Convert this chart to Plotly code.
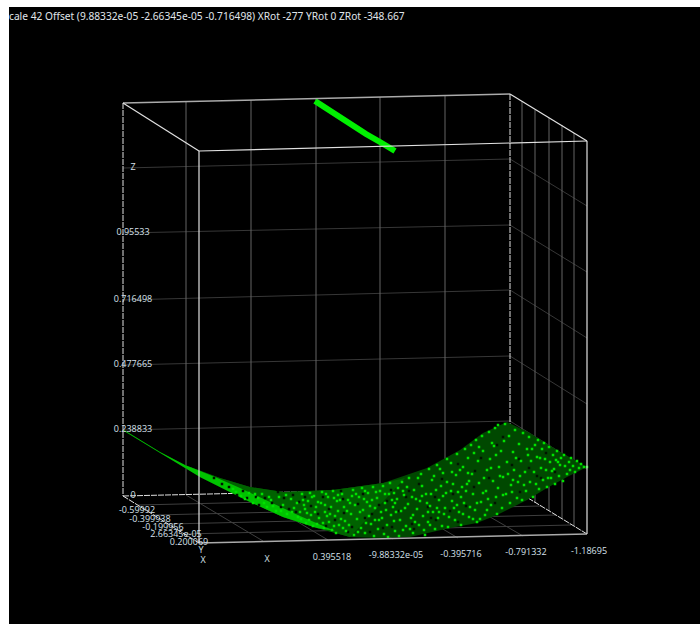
import plotly.graph_objects as go

TITLE = "cale 42 Offset (9.88332e-05 -2.66345e-05 -0.716498) XRot -277 YRot 0 ZRot -348.667"

label_text = ["Z", "0.95533", "0.716498", "0.477665", "0.238833", "0",
              "-0.59992", "-0.399938", "-0.199956", "2.66345e-05", "0.200069", "Y",
              "X", "X", "0.395518", "-9.88332e-05", "-0.395716", "-0.791332", "-1.18695"]
label_x = [133, 133, 133, 133, 133, 133, 137, 150, 163, 176, 189, 201, 203, 267, 332, 396, 461, 526, 589]
label_y = [168, 233, 300, 365, 430, 496, 511, 520, 528, 535, 543, 551, 561, 560, 558, 556, 555, 553, 552]

frame_bright_x = [199, 199, None, 587, 587, None, 123, 199, None, 510, 587, None, 199, 587]
frame_bright_y = [151, 543, None, 141, 534, None, 103, 151, None, 94, 141, None, 151, 141]
frame_mid_x = [123, 510, None, 199, 587]
frame_mid_y = [103, 94, None, 543, 534]
frame_dash_x = [123, 123, None, 510, 510, None, 123, 510, None, 123, 199, None, 510, 587]
frame_dash_y = [103, 496, None, 94, 487, None, 496, 487, None, 496, 543, None, 487, 534]

grid_v_x = [186, 186, None, 251, 251, None, 316, 316, None, 380, 380, None, 445, 445, None,
            522, 522, None, 535, 535, None, 549, 549, None, 562, 562, None, 574, 574]
grid_v_y = [102, 495, None, 100, 494, None, 99, 493, None, 97, 492, None, 96, 491, None,
            101, 494, None, 110, 503, None, 118, 511, None, 125, 519, None, 133, 526]
grid_z_x = [123, 510, 587, None, 123, 510, 587, None, 123, 510, 587, None, 123, 510, 587, None, 123, 510, 587]
grid_z_y = [168, 159, 206, None, 233, 225, 272, None, 300, 290, 338, None, 365, 356, 404, None, 430, 421, 469]
grid_f_x = [186, 263, None, 251, 328, None, 316, 393, None, 380, 458, None, 445, 523, None,
            138, 525, None, 154, 541, None, 169, 556, None, 184, 571]
grid_f_y = [495, 541, None, 494, 540, None, 493, 539, None, 492, 538, None, 491, 536, None,
            505, 496, None, 515, 506, None, 524, 515, None, 534, 525]

bar_x = [315, 327, 340, 353, 366, 380, 395]
bar_y = [101, 109, 117, 125, 134, 142, 151]

cloud_x = [124, 160, 185, 220, 250, 283, 333, 383, 427, 460, 483, 507, 530, 557, 587,
           567, 547, 527, 497, 477, 450, 410, 380, 350, 317, 283, 250, 200, 160, 124]
cloud_y = [430, 452, 465, 478, 487, 492, 490, 483, 468, 450, 433, 422, 433, 450, 467,
           477, 488, 500, 515, 523, 528, 537, 538, 537, 528, 517, 502, 477, 453, 431]
dense_x = [124, 160, 185, 215, 240, 265, 300, 335, 317, 283, 250, 200, 160, 124]
dense_y = [430, 452, 465, 477, 488, 500, 516, 531, 528, 517, 502, 477, 453, 431]
mid_x = [190, 220, 250, 283, 333, 383, 405, 350, 317, 283, 250, 200]
mid_y = [467, 478, 487, 492, 490, 483, 478, 537, 528, 517, 502, 477]

bright_pts = [
    (233,489),(241,496),(236,492),(249,493),(245,499),(258,498),(253,503),(262,494),(267,507),(271,500),
    (264,503),(276,511),(279,497),(283,505),(287,514),(291,499),(294,508),(298,517),(281,511),(273,506),
    (286,495),(297,503),(292,512),(255,494),(269,497),
    (302,494),(305,509),(301,519),(308,501),(311,515),(306,523),(314,496),(316,507),(313,526),(319,518),
    (322,492),(321,503),(325,512),(324,528),(328,497),(329,522),(331,507),(333,491),(335,516),(332,530),
    (337,501),(339,525),(338,511),(303,500),(310,493),(317,524),(327,516),(334,498),(336,533),(307,513),
    (342,494),(344,507),(341,519),(346,531),(348,500),(351,514),(349,525),(353,490),(355,505),(354,535),
    (357,519),(359,497),(361,528),(363,510),(362,488),(365,533),(367,502),(369,516),(368,493),(371,524),
    (373,487),(375,508),(374,536),(377,498),(379,520),(378,529),(381,512),(383,486),(385,503),(384,534),
    (387,525),(389,494),(391,515),(390,483),(393,507),(395,531),(394,521),(397,499),(399,536),(398,488),
    (345,521),(352,496),(358,532),(364,499),(370,506),(376,492),(382,518),(388,537),(392,500),(396,512),
    (402,482),(404,495),(401,511),(406,526),(408,504),(411,518),(409,478),(413,533),(414,490),(417,509),
    (416,499),(419,525),(421,474),(423,516),(422,486),(425,535),(427,503),(429,469),(428,522),(431,494),
    (433,512),(432,480),(435,529),(437,465),(439,500),(438,518),(441,486),(443,473),(442,526),(445,508),
    (447,459),(446,493),(449,517),(448,527),(403,530),(407,487),(412,497),(418,478),(424,530),(430,506),
    (436,490),(440,469),(444,514),(426,494),(415,522),
    (451,463),(453,484),(452,501),(455,520),(457,454),(456,475),(459,512),(458,492),(461,525),(463,467),
    (465,449),(464,503),(467,484),(469,517),(468,458),(471,445),(473,494),(472,474),(475,510),(477,522),
    (476,440),(479,483),(478,461),(481,502),(483,451),(482,436),(485,515),(487,470),(486,491),(489,432),
    (491,505),(490,459),(493,481),(495,428),(494,446),(497,514),(496,497),(499,467),(498,425),(454,508),
    (460,470),(466,491),(474,453),(480,519),(484,478),(488,499),(492,443),(498,488),(470,507),(462,487),
    (501,451),(503,477),(502,508),(505,424),(507,462),(506,494),(509,436),(511,485),(510,503),(513,452),
    (515,430),(514,470),(517,498),(519,444),(518,482),(521,461),(523,433),(522,500),(525,472),(527,449),
    (526,491),(529,437),(531,461),(530,482),(533,497),(535,445),(534,472),(537,457),(539,489),(538,440),
    (541,468),(543,480),(542,449),(545,459),(547,487),(546,470),(549,447),(551,478),(550,462),(553,455),
    (555,484),(554,469),(557,451),(559,476),(558,462),(561,458),(563,481),(565,466),(564,455),(567,474),
    (569,462),(571,458),(570,470),(573,466),(575,472),(577,461),(579,468),(581,464),(584,467),(587,467),
    (504,441),(512,492),(520,476),(528,455),(536,484),(544,443),(552,471),(560,465),
    (300,512),(304,505),(309,520),(312,497),(315,512),(318,502),(323,523),(326,494),(330,514),(334,526),
    (338,495),(343,528),(347,511),(350,503),(356,494),(360,512),(366,523),(372,500),(380,491),(386,510),
    (394,493),(400,520),(405,508),(410,529),(420,501),(428,512),(434,476),(439,512),(443,496),(451,491),
    (457,505),(463,514),(468,473),(473,519),(479,447),(483,493),(487,510),(491,468),(496,455),(500,476),
    (503,495),(508,474),(513,480),(516,458),(524,485),(532,449),(540,458),(548,478),(556,460),(340,500),
    (325,505),(365,491),(375,520),(385,494),(395,503),(403,491),(413,515),(422,496),(430,525),(437,508),
    (447,482),(452,472),(461,497),(469,481),(477,503),
]
bright_x = [p[0] for p in bright_pts]
bright_y = [p[1] for p in bright_pts]

dark_pts = [
    (214,478),(222,484),(229,487),(237,495),(243,491),(247,498),(256,497),(259,505),(265,498),(272,503),
    (278,492),(281,507),(284,498),(289,509),(293,495),(296,512),(299,502),(305,497),(311,506),(318,514),
    (323,497),(329,509),(335,520),(341,491),(344,513),(352,527),(358,504),(363,494),(372,514),(379,505),
    (383,528),(391,490),(399,511),(406,497),(412,524),(419,484),(428,507),(435,497),(442,479),(450,511),
    (458,464),(466,506),(474,487),(481,458),(489,478),(495,503),(503,437),(512,465),(520,492),(529,468),
    (537,476),(546,453),(555,472),(343,499),(365,518),(387,501),(409,491),(431,518),(453,494),(475,471),
    (497,445),(519,459),(541,478),(326,526),(348,532),(370,532),(392,527),(414,529),(436,520),(458,522),
]
dark_x = [p[0] for p in dark_pts]
dark_y = [p[1] for p in dark_pts]

fig = go.Figure()
fig.add_scatter(x=grid_z_x, y=grid_z_y, mode="lines", line=dict(color="rgb(55,55,55)", width=1))
fig.add_scatter(x=grid_f_x, y=grid_f_y, mode="lines", line=dict(color="rgb(62,62,62)", width=1))
fig.add_scatter(x=grid_v_x, y=grid_v_y, mode="lines", line=dict(color="rgb(100,100,100)", width=1))
fig.add_scatter(x=frame_dash_x, y=frame_dash_y, mode="lines",
                line=dict(color="rgb(225,225,225)", width=1, dash="6px,1px"))
fig.add_scatter(x=cloud_x, y=cloud_y, mode="lines", fill="toself", fillcolor="rgb(0,72,0)", line=dict(width=0))
fig.add_scatter(x=mid_x, y=mid_y, mode="lines", fill="toself", fillcolor="rgb(0,98,0)", line=dict(width=0))
fig.add_scatter(x=dense_x, y=dense_y, mode="lines", fill="toself", fillcolor="rgb(0,195,0)", line=dict(width=0))
fig.add_scatter(x=dark_x, y=dark_y, mode="markers", marker=dict(color="rgb(0,20,0)", size=2.5, symbol="square", line=dict(width=0)))
fig.add_scatter(x=bright_x, y=bright_y, mode="markers", marker=dict(color="rgb(0,225,0)", size=2.5, symbol="square", line=dict(width=0)))
fig.add_scatter(x=bar_x, y=bar_y, mode="lines", line=dict(color="rgb(0,240,0)", width=6))
fig.add_scatter(x=frame_mid_x, y=frame_mid_y, mode="lines", line=dict(color="rgb(170,170,170)", width=1.5))
fig.add_scatter(x=frame_bright_x, y=frame_bright_y, mode="lines", line=dict(color="rgb(225,225,225)", width=1.2))
fig.add_scatter(x=label_x, y=label_y, mode="text", text=label_text, textposition="middle center",
                textfont=dict(family="Open Sans", size=9, color="rgb(215,225,235)"))
fig.add_annotation(x=9, y=16, xref="x", yref="y", text=TITLE, showarrow=False, xanchor="left", borderpad=0, xshift=-1,
                   font=dict(family="Noto Sans", size=10.2, color="rgb(225,230,235)"))

hidden = dict(visible=False, fixedrange=True)
fig.update_layout(width=700, height=624, showlegend=False, paper_bgcolor="white", plot_bgcolor="black",
                  margin=dict(l=9, r=0, t=7, b=0),
                  xaxis=dict(range=[9, 700], **hidden),
                  yaxis=dict(range=[624, 7], **hidden))
fig.write_html("out.html", config={"displayModeBar": False},
               post_script=["document.body.style.margin='0';document.documentElement.style.overflow='hidden';"])
